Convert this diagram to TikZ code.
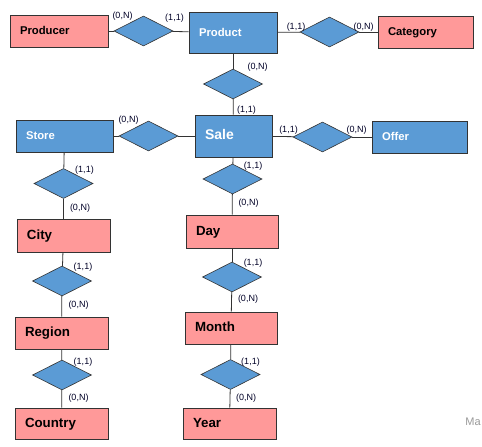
\documentclass[tikz,border=0pt]{standalone}
\usepackage{fontspec}
\setmainfont{Liberation Sans}
\usepackage{xcolor}
\usetikzlibrary{shapes.geometric, arrows, positioning}

\definecolor{entpink}{HTML}{FF9999}
\definecolor{entblue}{HTML}{5B9BD5}
\definecolor{edgegray}{HTML}{333333}

\begin{document}
\begin{tikzpicture}[x=1pt, y=-1pt, -, line width=0.8pt,
    ent/.style={draw=edgegray, rectangle, inner xsep=10pt, inner ysep=0pt, align=left, minimum height=32pt, text height=0.72em, text depth=0pt},
    pink/.style={ent, fill=entpink, text=black},
    blue/.style={ent, fill=entblue, text=white},
    small/.style={font=\bfseries\fontsize{11.3}{13}\selectfont},
    big/.style={font=\bfseries\fontsize{13.3}{15}\selectfont},
    rel/.style={diamond, draw=black!80, fill=entblue, line width=0.6pt, inner sep=0pt, minimum width=59pt, minimum height=30pt},
    card/.style={font=\fontsize{9}{10}\selectfont, inner sep=0pt, text=black!85!blue},
    link/.style={draw=edgegray, line width=0.8pt}]
        \useasboundingbox (0,0) rectangle (482,447);
        % entities
        \node [pink, small, text width=78pt] (producer) at (59, 31) {Producer};
        \node [blue, small, text width=68pt, minimum height=41pt] (product) at (233, 32.5) {Product};
        \node [pink, small, text width=75pt] (category) at (425.5, 32) {Category};
        \node [blue, small, text width=77pt] (store) at (64.5, 136) {Store};
        \node [blue, text width=57pt, minimum height=42pt, font=\bfseries\fontsize{14}{16}\selectfont] (sale) at (233.5, 136) {Sale};
        \node [blue, small, text width=75pt] (offer) at (419.5, 137) {Offer};
        \node [pink, big, text width=73pt, minimum height=33pt] (city) at (63.5, 235.5) {City};
        \node [pink, big, text width=73pt] (region) at (61.5, 333) {Region};
        \node [pink, big, text width=73pt, minimum height=31pt] (country) at (61.5, 423.5) {Country};
        \node [pink, big, text width=72pt, minimum height=33pt] (day) at (232, 231.5) {Day};
        \node [pink, big, text width=72pt] (month) at (231, 328) {Month};
        \node [pink, big, text width=73pt, minimum height=31pt] (year) at (229.5, 423.5) {Year};
        % relationships
        \node [rel] (makes) at (143.5, 31) {};
        \node [rel] (belongs) at (329.5, 32) {};
        \node [rel] (sold) at (233, 84) {};
        \node [rel] (sells) at (148.5, 136) {};
        \node [rel] (offered) at (322.5, 137) {};
        \node [rel] (incity) at (63.5, 183.5) {};
        \node [rel] (inregion) at (62, 281) {};
        \node [rel] (incountry) at (62, 375) {};
        \node [rel] (onday) at (232.5, 179) {};
        \node [rel] (inmonth) at (232, 277) {};
        \node [rel] (inyear) at (230.5, 374.5) {};
        % links
        \path [link] (producer) edge (makes);
        \path [link] (makes) edge (product);
        \path [link] (product) edge (belongs);
        \path [link] (belongs) edge (category);
        \path [link] (product) edge (sold);
        \path [link] (sold) edge (sale);
        \path [link] (store) edge (sells);
        \path [link] (sells) edge (sale);
        \path [link] (sale) edge (offered);
        \path [link] (offered) edge (offer);
        \path [link] (store) edge (incity);
        \path [link] (incity) edge (city);
        \path [link] (city) edge (inregion);
        \path [link] (inregion) edge (region);
        \path [link] (region) edge (incountry);
        \path [link] (incountry) edge (country);
        \path [link] (sale) edge (onday);
        \path [link] (onday) edge (day);
        \path [link] (day) edge (inmonth);
        \path [link] (inmonth) edge (month);
        \path [link] (month) edge (inyear);
        \path [link] (inyear) edge (year);
        % cardinalities
        \node [card] (c1) at (122.5, 16) {(0,N)};
        \node [card] (c2) at (174.5, 18) {(1,1)};
        \node [card] (c3) at (296, 27) {(1,1)};
        \node [card] (c4) at (363.5, 27) {(0,N)};
        \node [card] (c5) at (257.5, 67) {(0,N)};
        \node [card] (c6) at (246.5, 110) {(1,1)};
        \node [card] (c7) at (128.5, 120) {(0,N)};
        \node [card] (c8) at (288.5, 130) {(1,1)};
        \node [card] (c9) at (356.5, 130) {(0,N)};
        \node [card] (c10) at (84.5, 170.5) {(1,1)};
        \node [card] (c11) at (80, 208) {(0,N)};
        \node [card] (c12) at (83, 267) {(1,1)};
        \node [card] (c13) at (78.5, 305) {(0,N)};
        \node [card] (c14) at (83, 362) {(1,1)};
        \node [card] (c15) at (78.5, 398.5) {(0,N)};
        \node [card] (c16) at (253, 166) {(1,1)};
        \node [card] (c17) at (248.5, 203) {(0,N)};
        \node [card] (c18) at (253, 263) {(1,1)};
        \node [card] (c19) at (248, 299.5) {(0,N)};
        \node [card] (c20) at (250.5, 362) {(1,1)};
        \node [card] (c21) at (246, 398.5) {(0,N)};
        \node [anchor=west, inner sep=0pt, text=black!40, font=\fontsize{11}{12}\selectfont] (mark) at (465, 421.5) {Ma};
    \end{tikzpicture}
\end{document}
